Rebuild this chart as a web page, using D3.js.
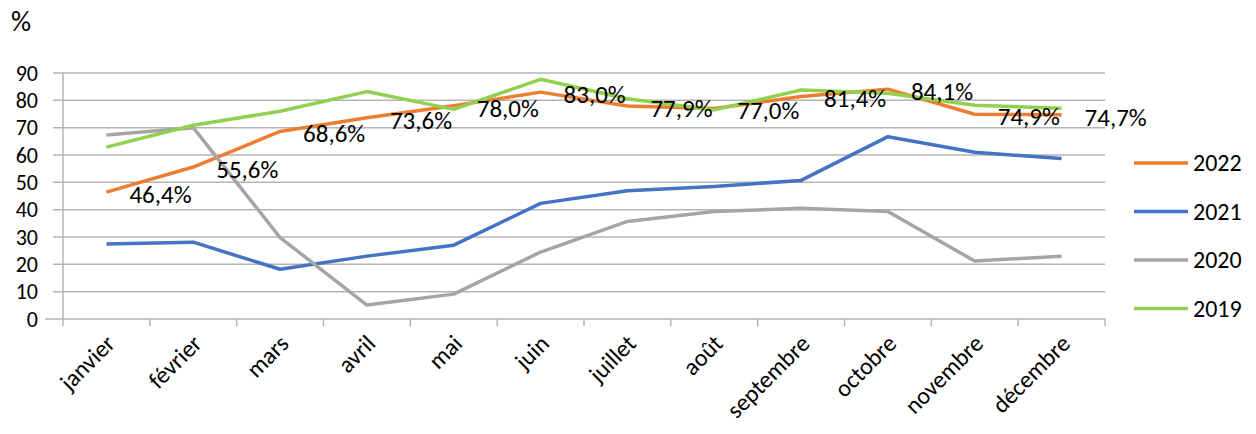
<!DOCTYPE html>
<html>
<head>
<meta charset="utf-8">
<script src="https://cdn.jsdelivr.net/npm/d3@7"></script>
<style>
  body { margin: 0; background: #fff; }
  text { font-family: Carlito, Calibri, Lato, sans-serif; fill: #000; }
</style>
</head>
<body>
<svg width="1256" height="434"></svg>
<script>
const months = ["janvier", "février", "mars", "avril", "mai", "juin", "juillet", "août", "septembre", "octobre", "novembre", "décembre"]
const v2022 = [46.4, 55.6, 68.6, 73.6, 78.0, 83.0, 77.9, 77.0, 81.4, 84.1, 74.9, 74.7]
const v2021 = [27.4, 28.1, 18.2, 23.0, 27.0, 42.3, 46.9, 48.5, 50.7, 66.7, 61.0, 58.7]
const v2020 = [67.3, 70.0, 29.8, 5.1, 9.1, 24.5, 35.7, 39.3, 40.5, 39.3, 21.2, 23.0]
const v2019 = [62.9, 70.9, 76.0, 83.2, 76.7, 87.7, 80.6, 76.5, 83.8, 82.6, 78.2, 77.1]
const yTicks = [0, 10, 20, 30, 40, 50, 60, 70, 80, 90]

const series = [
    { name: "2022", values: v2022, color: "#ed7d31" },
    { name: "2021", values: v2021, color: "#4472c4" },
    { name: "2020", values: v2020, color: "#a5a5a5" },
    { name: "2019", values: v2019, color: "#92d050" }
]

const svg = d3.select('svg')
const gridColor = "#b4b4b4"

const x = d3.scaleBand().domain(months).range([63, 1105])
const y = d3.scaleLinear().domain([0, 90]).range([319, 73])
const cx = m => x(m) + x.bandwidth() / 2

// horizontal gridlines + y labels
svg.selectAll('line.grid')
    .data(yTicks)
    .enter()
    .append('line')
    .attr('x1', d => d === 0 ? 45 : 53)
    .attr('x2', 1105)
    .attr('y1', d => y(d))
    .attr('y2', d => y(d))
    .attr('stroke', gridColor)
    .attr('stroke-width', 1.5)

svg.selectAll('text.ytick')
    .data(yTicks)
    .enter()
    .append('text')
    .attr('x', 38)
    .attr('y', d => y(d))
    .attr('dy', '0.35em')
    .attr('text-anchor', 'end')
    .style('font-size', '22px')
    .text(d => d)

svg.append('text')
    .attr('x', 11)
    .attr('y', 21)
    .attr('dy', '0.35em')
    .style('font-size', '28px')
    .text('%')

// y axis line
svg.append('line')
    .attr('x1', 63).attr('x2', 63)
    .attr('y1', 73).attr('y2', 326)
    .attr('stroke', gridColor)
    .attr('stroke-width', 1.5)

// x ticks at band boundaries
svg.selectAll('line.xtick')
    .data(months.slice(1).concat(['end']))
    .enter()
    .append('line')
    .attr('x1', d => d === 'end' ? 1105 : x(d))
    .attr('x2', d => d === 'end' ? 1105 : x(d))
    .attr('y1', 319)
    .attr('y2', 326)
    .attr('stroke', gridColor)
    .attr('stroke-width', 1.5)

svg.selectAll('text.month')
    .data(months)
    .enter()
    .append('text')
    .attr('text-anchor', 'end')
    .attr('transform', d => `translate(${cx(d) + 10},${345}) rotate(-45)`)
    .style('font-size', '24px')
    .text(d => d)

// lines
const line = d3.line()
    .x((d, i) => cx(months[i]))
    .y(d => y(d))

svg.selectAll('path.series')
    .data(series)
    .enter()
    .append('path')
    .attr('d', d => line(d.values))
    .attr('fill', 'none')
    .attr('stroke', d => d.color)
    .attr('stroke-width', 3.5)
    .attr('stroke-linejoin', 'round')

// data labels for 2022
svg.selectAll('text.lbl')
    .data(v2022)
    .enter()
    .append('text')
    .attr('x', (d, i) => cx(months[i]) + 23)
    .attr('y', d => y(d) + 2)
    .attr('dy', '0.35em')
    .style('font-size', '25px')
    .text(d => d.toFixed(1).replace('.', ',') + '%')

// legend
const legend = svg.selectAll('g.legend')
    .data(series)
    .enter()
    .append('g')
    .attr('transform', (d, i) => `translate(1134,${163 + i * 48.5})`)

legend.append('line')
    .attr('x1', 0).attr('x2', 54)
    .attr('stroke', d => d.color)
    .attr('stroke-width', 3.5)

legend.append('text')
    .attr('x', 59)
    .attr('dy', '0.35em')
    .style('font-size', '24px')
    .text(d => d.name)
</script>
</body>
</html>
